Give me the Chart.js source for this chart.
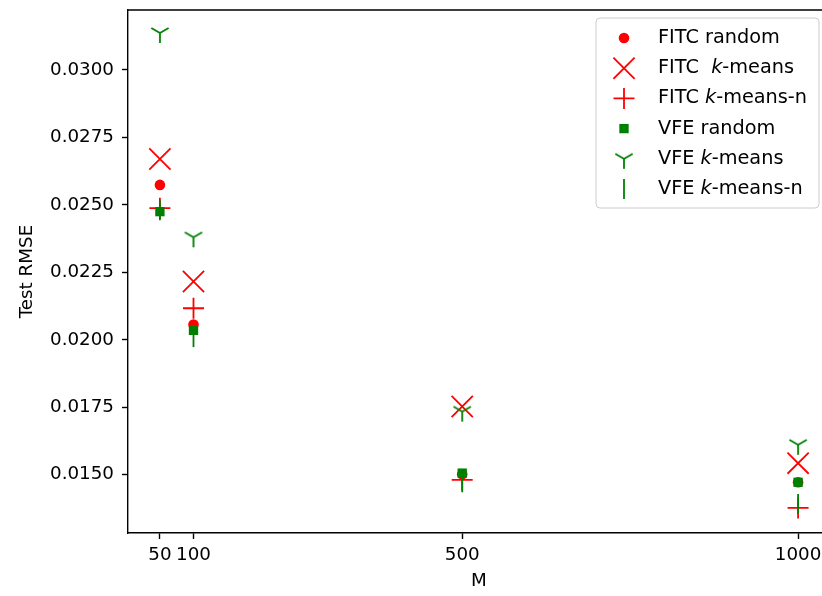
<!DOCTYPE html>
<html>
<head>
<meta charset="utf-8">
<script src="https://cdn.jsdelivr.net/npm/chart.js@4/dist/chart.umd.min.js"></script>
<style>
  html, body { margin: 0; padding: 0; background: #fff; overflow: hidden; }
  #wrap { width: 822px; height: 596px; overflow: hidden; }
  canvas { display: block; }
</style>
</head>
<body>
<div id="wrap"><canvas id="myChart" width="840" height="596"></canvas></div>
<script>
// data
var M = [50, 100, 500, 1000];
var xTicks = [50, 100, 500, 1000];
var yTicks = [0.0150, 0.0175, 0.0200, 0.0225, 0.0250, 0.0275, 0.0300];
var labels = ["FITC random", "FITC  k-means", "FITC k-means-n", "VFE random", "VFE k-means", "VFE k-means-n"];

var fitcRandom  = [0.02574, 0.02057, 0.01502, 0.01472];
var fitcKmeans  = [0.02670, 0.02216, 0.01753, 0.01543];
var fitcKmeansN = [0.02488, 0.02117, 0.01481, 0.01377];
var vfeRandom   = [0.02475, 0.02035, 0.01506, 0.01472];
var vfeKmeans   = [0.03137, 0.02380, 0.01734, 0.01611];
var vfeKmeansN  = [0.02480, 0.02010, 0.01472, 0.01392];

var FONT = "'DejaVu Sans', sans-serif";
var FS = 18.3;
var LEG_FS = 19.3;

// tri_down marker ("1" in matplotlib), drawn once on a small canvas
function triDown(color) {
	var c = document.createElement("canvas");
	c.width = 26; c.height = 26;
	var g = c.getContext("2d");
	g.strokeStyle = color;
	g.lineWidth = 1.8;
	g.beginPath();
	g.moveTo(13, 13); g.lineTo(13, 23);
	g.moveTo(13, 13); g.lineTo(13 - 8.66, 8);
	g.moveTo(13, 13); g.lineTo(13 + 8.66, 8);
	g.stroke();
	return c;
}
var triGreen = triDown("#008000");

function pts(ys) {
	return M.map(function (m, i) { return { x: m, y: ys[i] }; });
}

var datasets = [
	{ label: labels[0], data: pts(fitcRandom),  pointStyle: "circle",   pointRadius: 5.3, pointBackgroundColor: "#ff0000", pointBorderColor: "#ff0000", pointBorderWidth: 0, order: 6 },
	{ label: labels[1], data: pts(fitcKmeans),  pointStyle: "crossRot", pointRadius: 15,  pointBackgroundColor: "#ff0000", pointBorderColor: "#ff0000", pointBorderWidth: 1.8, order: 5 },
	{ label: labels[2], data: pts(fitcKmeansN), pointStyle: "cross",    pointRadius: 10.5, pointBackgroundColor: "#ff0000", pointBorderColor: "#ff0000", pointBorderWidth: 1.8, order: 4 },
	{ label: labels[3], data: pts(vfeRandom),   pointStyle: "rect",     pointRadius: 6.6, pointBackgroundColor: "#008000", pointBorderColor: "#008000", pointBorderWidth: 0, order: 3 },
	{ label: labels[4], data: pts(vfeKmeans),   pointStyle: triGreen,   pointRadius: 10,  pointBackgroundColor: "#008000", pointBorderColor: "#008000", pointBorderWidth: 0, order: 2 },
	{ label: labels[5], data: pts(vfeKmeansN),  pointStyle: "line",     pointRotation: 90, pointRadius: 10, pointBackgroundColor: "#008000", pointBorderColor: "#008000", pointBorderWidth: 1.8, order: 1 }
];
datasets.forEach(function (d) {
	d.showLine = false;
	d.pointHoverRadius = d.pointRadius;
});

// top spine + matplotlib-like legend box
var framePlugin = {
	id: "frame",
	afterDraw: function (chart) {
		var ctx = chart.ctx, a = chart.chartArea;
		ctx.save();
		ctx.strokeStyle = "#000";
		ctx.lineWidth = 1.4;
		ctx.beginPath();
		ctx.moveTo(a.left, a.top);
		ctx.lineTo(a.right, a.top);
		ctx.lineTo(a.right, a.bottom);
		ctx.stroke();

		// legend
		var bx = 596, by = 18, bw = 223, bh = 190, r = 4;
		ctx.beginPath();
		ctx.moveTo(bx + r, by);
		ctx.arcTo(bx + bw, by, bx + bw, by + bh, r);
		ctx.arcTo(bx + bw, by + bh, bx, by + bh, r);
		ctx.arcTo(bx, by + bh, bx, by, r);
		ctx.arcTo(bx, by, bx + bw, by, r);
		ctx.closePath();
		ctx.fillStyle = "rgba(255,255,255,0.8)";
		ctx.fill();
		ctx.strokeStyle = "#cccccc";
		ctx.lineWidth = 1;
		ctx.stroke();

		chart.data.datasets.forEach(function (ds, i) {
			var y = 38 + i * 30.2;
			var mx = 624;
			ctx.fillStyle = ds.pointBackgroundColor;
			ctx.strokeStyle = ds.pointBorderColor;
			ctx.lineWidth = ds.pointBorderWidth || 0;
			Chart.helpers.drawPoint(ctx, {
				pointStyle: ds.pointStyle,
				rotation: ds.pointRotation || 0,
				radius: ds.pointRadius,
				borderWidth: ds.pointBorderWidth
			}, mx, y);

			// label, with italic k in "k-means"
			ctx.fillStyle = "#000";
			ctx.textBaseline = "middle";
			ctx.textAlign = "left";
			var txt = ds.label, x = 658;
			var k = txt.indexOf("k-means");
			var normal = LEG_FS + "px " + FONT, ital = "italic " + LEG_FS + "px " + FONT;
			if (k < 0) {
				ctx.font = normal;
				ctx.fillText(txt, x, y);
			} else {
				var pre = txt.slice(0, k), post = txt.slice(k + 1);
				ctx.font = normal;
				ctx.fillText(pre, x, y);
				x += ctx.measureText(pre).width;
				ctx.font = ital;
				ctx.fillText("k", x, y);
				x += ctx.measureText("k").width;
				ctx.font = normal;
				ctx.fillText(post, x, y);
			}
		});
		ctx.restore();
	}
};

var ctx = document.getElementById("myChart").getContext("2d");

var myChart = new Chart(ctx, {
	type: "scatter",
	data: { datasets: datasets },
	plugins: [framePlugin],
	options: {
		responsive: false,
		animation: false,
		devicePixelRatio: 1,
		layout: { autoPadding: false, padding: { left: 0, right: 10, top: 10, bottom: 0 } },
		plugins: {
			legend: { display: false },
			tooltip: { enabled: false }
		},
		scales: {
			x: {
				type: "linear",
				min: 2.5,
				max: 1047.5,
				afterBuildTicks: function (s) { s.ticks = xTicks.map(function (v) { return { value: v }; }); },
				afterFit: function (s) { s.height = 63; s.paddingLeft = 0; s.paddingRight = 0; },
				ticks: {
					autoSkip: false, maxRotation: 0, padding: 5,
					color: "#000", font: { family: FONT, size: FS },
					callback: function (v) { return String(v); }
				},
				grid: { drawOnChartArea: false, tickLength: 6, tickColor: "#000", tickWidth: 1.4 },
				border: { color: "#000", width: 1.4 },
				title: { display: true, text: "M", color: "#000", font: { family: FONT, size: FS }, padding: { top: 0, bottom: 3.5 } }
			},
			y: {
				type: "linear",
				min: 0.012841,
				max: 0.032222,
				afterBuildTicks: function (s) { s.ticks = yTicks.map(function (v) { return { value: v }; }); },
				afterFit: function (s) { s.width = 128; s.paddingTop = 0; s.paddingBottom = 0; },
				ticks: {
					autoSkip: false, padding: 8,
					color: "#000", font: { family: FONT, size: FS },
					callback: function (v) { return Number(v).toFixed(4); }
				},
				grid: { drawOnChartArea: false, tickLength: 6, tickColor: "#000", tickWidth: 1.4 },
				border: { color: "#000", width: 1.4 },
				title: { display: true, text: "Test RMSE", color: "#000", font: { family: FONT, size: FS }, padding: { top: 16, bottom: 0 } }
			}
		}
	}
});
</script>
</body>
</html>
